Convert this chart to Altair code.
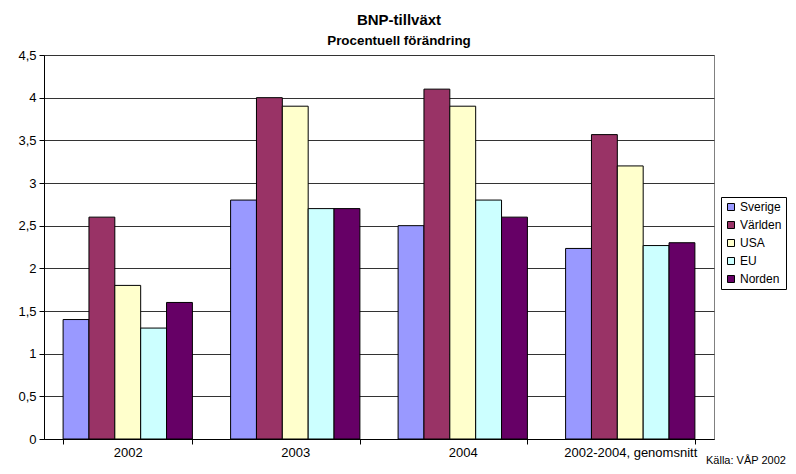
import altair as alt
import pandas as pd

categories = ["2002", "2003", "2004", "2002-2004, genomsnitt"]
series = ["Sverige", "Världen", "USA", "EU", "Norden"]
colors = ["#9999FF", "#993366", "#FFFFCC", "#CCFFFF", "#660066"]
values = {
    "Sverige": [1.4, 2.8, 2.5, 2.233],
    "Världen": [2.6, 4.0, 4.1, 3.567],
    "USA": [1.8, 3.9, 3.9, 3.2],
    "EU": [1.3, 2.7, 2.8, 2.267],
    "Norden": [1.6, 2.7, 2.6, 2.3],
}
y_ticks = [0, 0.5, 1, 1.5, 2, 2.5, 3, 3.5, 4, 4.5]
source_text = ["Källa: VÅP 2002"]

rows = []
for s in series:
    for c, v in zip(categories, values[s]):
        rows.append({"kategori": c, "serie": s, "varde": v})
df = pd.DataFrame(rows)

FONT = "Liberation Sans"
W, H = 670, 384

bars = alt.Chart(df).mark_bar(stroke="black", strokeWidth=1).encode(
    x=alt.X("kategori:N", sort=categories, title=None,
            scale=alt.Scale(paddingInner=0.228, paddingOuter=0.114),
            axis=alt.Axis(labelAngle=0, tickBand="extent", tickSize=5,
                          tickColor="black", domainColor="black",
                          labelFont=FONT, labelFontSize=13, labelColor="black",
                          labelPadding=2, grid=False)),
    xOffset=alt.XOffset("serie:N", sort=series, scale=alt.Scale(paddingInner=0, paddingOuter=0)),
    y=alt.Y("varde:Q", title=None,
            scale=alt.Scale(domain=[0, 4.5], nice=False, zero=True),
            axis=alt.Axis(values=y_ticks, tickSize=5, tickColor="black",
                          domainColor="black", gridColor="#333333", gridWidth=1,
                          labelFont=FONT, labelFontSize=13, labelColor="black",
                          labelPadding=3,
                          labelExpr="replace(toString(datum.value), '.', ',')")),
    color=alt.Color("serie:N", sort=series,
                    scale=alt.Scale(domain=series, range=colors),
                    legend=alt.Legend(title=None, orient="none", legendX=677, legendY=142,
                                      symbolType="square", symbolSize=49,
                                      symbolStrokeColor="black", symbolStrokeWidth=1,
                                      labelFont=FONT, labelFontSize=12, labelColor="black",
                                      rowPadding=6, padding=4, labelOffset=3,
                                      strokeColor="black", fillColor="white")),
)

src = alt.Chart(pd.DataFrame({"t": source_text})).mark_text(
    align="left", baseline="bottom", font=FONT, fontSize=11, color="black"
).encode(x=alt.value(662), y=alt.value(411), text="t:N")

chart = alt.layer(bars, src).properties(
    width=W, height=H,
    title=alt.TitleParams(text="BNP-tillväxt", subtitle="Procentuell förändring",
                          font=FONT, fontSize=15, fontWeight="bold", color="black",
                          subtitleFont=FONT, subtitleFontSize=13.4, subtitleFontWeight="bold",
                          subtitleColor="black", subtitlePadding=6,
                          anchor="middle", frame="group", dx=20, offset=2),
    autosize=alt.AutoSizeParams(type="none"),
    padding={"left": 36, "top": 47, "right": 74, "bottom": 27},
).configure_view(stroke="#808080", strokeWidth=1)

chart.save("out.html", embed_options={"renderer": "svg", "actions": False})
